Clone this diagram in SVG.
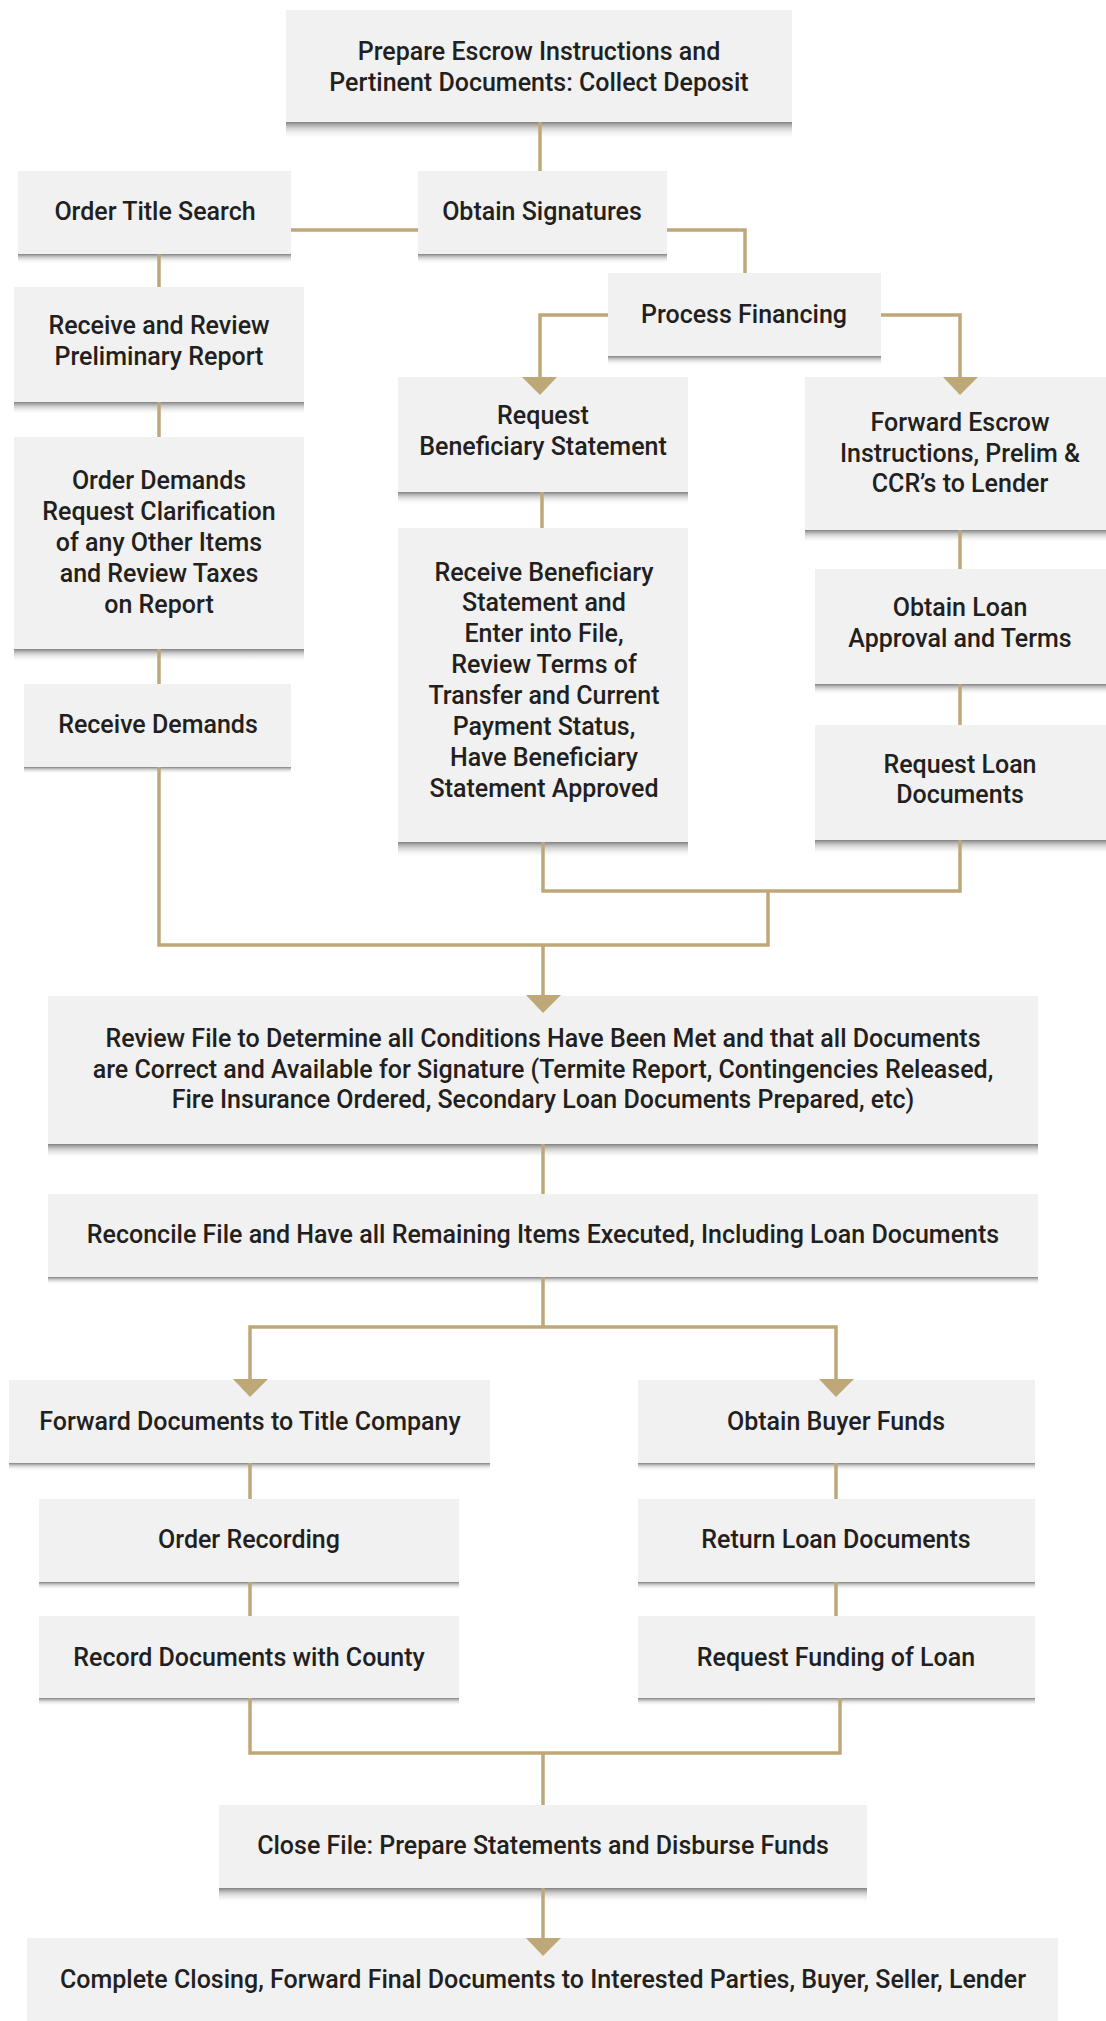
<svg xmlns="http://www.w3.org/2000/svg" width="1106" height="2021" viewBox="0 0 1106 2021">
<style>
.box{fill:#f0f1f0}
.sh{fill:url(#shg)}
.t{font-family:Roboto,"Liberation Sans",sans-serif;font-size:25px;font-weight:500;fill:#231f20;text-anchor:middle}
.c{fill:none;stroke:#bfa877;stroke-width:3.5}
.ar{fill:#bfa877}
</style>
<defs>
<linearGradient id="shg" x1="0" y1="0" x2="0" y2="1">
<stop offset="0" stop-color="#7a7a7a" stop-opacity="0.95"/>
<stop offset="0.35" stop-color="#b0b0b0" stop-opacity="0.6"/>
<stop offset="1" stop-color="#ffffff" stop-opacity="0"/>
</linearGradient>
</defs>
<rect width="1106" height="2021" fill="#ffffff"/>
<g id="n1"><rect class="sh" x="286" y="122" width="506" height="17"/><rect class="box" x="286" y="10" width="506" height="112"/><text class="t" x="539" y="60">Prepare Escrow Instructions and</text><text class="t" x="539" y="91">Pertinent Documents: Collect Deposit</text></g>
<g id="n2"><rect class="sh" x="18" y="254" width="273" height="10"/><rect class="box" x="18" y="171" width="273" height="83"/><text class="t" x="155" y="220">Order Title Search</text></g>
<g id="n3"><rect class="sh" x="418" y="254" width="249" height="10"/><rect class="box" x="418" y="171" width="249" height="83"/><text class="t" x="542" y="220">Obtain Signatures</text></g>
<g id="n4"><rect class="sh" x="14" y="402" width="290" height="13"/><rect class="box" x="14" y="287" width="290" height="115"/><text class="t" x="159" y="334">Receive and Review</text><text class="t" x="159" y="365">Preliminary Report</text></g>
<g id="n5"><rect class="sh" x="608" y="356" width="273" height="10"/><rect class="box" x="608" y="273" width="273" height="83"/><text class="t" x="744" y="323">Process Financing</text></g>
<g id="n6"><rect class="sh" x="398" y="492" width="290" height="13"/><rect class="box" x="398" y="377" width="290" height="115"/><text class="t" x="543" y="424">Request</text><text class="t" x="543" y="455">Beneficiary Statement</text></g>
<g id="n7"><rect class="sh" x="805" y="530" width="301" height="13"/><rect class="box" x="805" y="377" width="301" height="153"/><text class="t" x="960" y="431">Forward Escrow</text><text class="t" x="960" y="462">Instructions, Prelim &amp;</text><text class="t" x="960" y="492">CCR’s to Lender</text></g>
<g id="n8"><rect class="sh" x="14" y="649" width="290" height="13"/><rect class="box" x="14" y="437" width="290" height="212"/><text class="t" x="159" y="489">Order Demands</text><text class="t" x="159" y="520">Request Clarification</text><text class="t" x="159" y="551">of any Other Items</text><text class="t" x="159" y="582">and Review Taxes</text><text class="t" x="159" y="613">on Report</text></g>
<g id="n9"><rect class="sh" x="398" y="842" width="290" height="16"/><rect class="box" x="398" y="528" width="290" height="314"/><text class="t" x="544" y="581">Receive Beneficiary</text><text class="t" x="544" y="611">Statement and</text><text class="t" x="544" y="642">Enter into File,</text><text class="t" x="544" y="673">Review Terms of</text><text class="t" x="544" y="704">Transfer and Current</text><text class="t" x="544" y="735">Payment Status,</text><text class="t" x="544" y="766">Have Beneficiary</text><text class="t" x="544" y="797">Statement Approved</text></g>
<g id="n10"><rect class="sh" x="815" y="684" width="291" height="11"/><rect class="box" x="815" y="569" width="291" height="115"/><text class="t" x="960" y="616">Obtain Loan</text><text class="t" x="960" y="647">Approval and Terms</text></g>
<g id="n11"><rect class="sh" x="24" y="767" width="267" height="7"/><rect class="box" x="24" y="684" width="267" height="83"/><text class="t" x="158" y="733">Receive Demands</text></g>
<g id="n12"><rect class="sh" x="815" y="840" width="291" height="15"/><rect class="box" x="815" y="725" width="291" height="115"/><text class="t" x="960" y="773">Request Loan</text><text class="t" x="960" y="803">Documents</text></g>
<g id="n13"><rect class="sh" x="48" y="1144" width="990" height="15"/><rect class="box" x="48" y="996" width="990" height="148"/><text class="t" x="543" y="1047">Review File to Determine all Conditions Have Been Met and that all Documents</text><text class="t" x="543" y="1078">are Correct and Available for Signature (Termite Report, Contingencies Released,</text><text class="t" x="543" y="1108">Fire Insurance Ordered, Secondary Loan Documents Prepared, etc)</text></g>
<g id="n14"><rect class="sh" x="48" y="1277" width="990" height="8"/><rect class="box" x="48" y="1194" width="990" height="83"/><text class="t" x="543" y="1243">Reconcile File and Have all Remaining Items Executed, Including Loan Documents</text></g>
<g id="n15"><rect class="sh" x="9" y="1463" width="481" height="8"/><rect class="box" x="9" y="1380" width="481" height="83"/><text class="t" x="250" y="1430">Forward Documents to Title Company</text></g>
<g id="n16"><rect class="sh" x="638" y="1463" width="397" height="8"/><rect class="box" x="638" y="1380" width="397" height="83"/><text class="t" x="836" y="1430">Obtain Buyer Funds</text></g>
<g id="n17"><rect class="sh" x="39" y="1582" width="420" height="8"/><rect class="box" x="39" y="1499" width="420" height="83"/><text class="t" x="249" y="1548">Order Recording</text></g>
<g id="n18"><rect class="sh" x="638" y="1582" width="397" height="8"/><rect class="box" x="638" y="1499" width="397" height="83"/><text class="t" x="836" y="1548">Return Loan Documents</text></g>
<g id="n19"><rect class="sh" x="39" y="1698" width="420" height="8"/><rect class="box" x="39" y="1616" width="420" height="82"/><text class="t" x="249" y="1666">Record Documents with County</text></g>
<g id="n20"><rect class="sh" x="638" y="1698" width="397" height="8"/><rect class="box" x="638" y="1616" width="397" height="82"/><text class="t" x="836" y="1666">Request Funding of Loan</text></g>
<g id="n21"><rect class="sh" x="219" y="1888" width="648" height="15"/><rect class="box" x="219" y="1805" width="648" height="83"/><text class="t" x="543" y="1854">Close File: Prepare Statements and Disburse Funds</text></g>
<g id="n22"><rect class="box" x="27" y="1938" width="1031" height="83"/><text class="t" x="543" y="1988">Complete Closing, Forward Final Documents to Interested Parties, Buyer, Seller, Lender</text></g>
<g id="connectors">
<path class="c" d="M540 122V171"/>
<path class="c" d="M291 230H418"/>
<path class="c" d="M667 230H745V273"/>
<path class="c" d="M159 254V287M159 402V437M159 649V684"/>
<path class="c" d="M608 315H540V380"/>
<path class="c" d="M881 315H960V380"/>
<path class="c" d="M542 492V528"/>
<path class="c" d="M960 530V569M960 684V725"/>
<path class="c" d="M543 842V891H960V840"/>
<path class="c" d="M768 891V945H159V767"/>
<path class="c" d="M543 945V1000"/>
<path class="c" d="M543 1144V1194"/>
<path class="c" d="M543 1277V1327M250 1383V1327H836V1383"/>
<path class="c" d="M250 1463V1499M250 1582V1616"/>
<path class="c" d="M836 1463V1499M836 1582V1616"/>
<path class="c" d="M250 1698V1753H840V1698M543 1753V1805"/>
<path class="c" d="M543 1888V1942"/>
<polygon class="ar" points="522,377 557,377 540,395"/>
<polygon class="ar" points="943,377 978,377 960,395"/>
<polygon class="ar" points="526,995 561,995 543,1013"/>
<polygon class="ar" points="233,1379 268,1379 250,1397"/>
<polygon class="ar" points="819,1379 854,1379 836,1397"/>
<polygon class="ar" points="526,1938 561,1938 543,1956"/>
</g>
</svg>
